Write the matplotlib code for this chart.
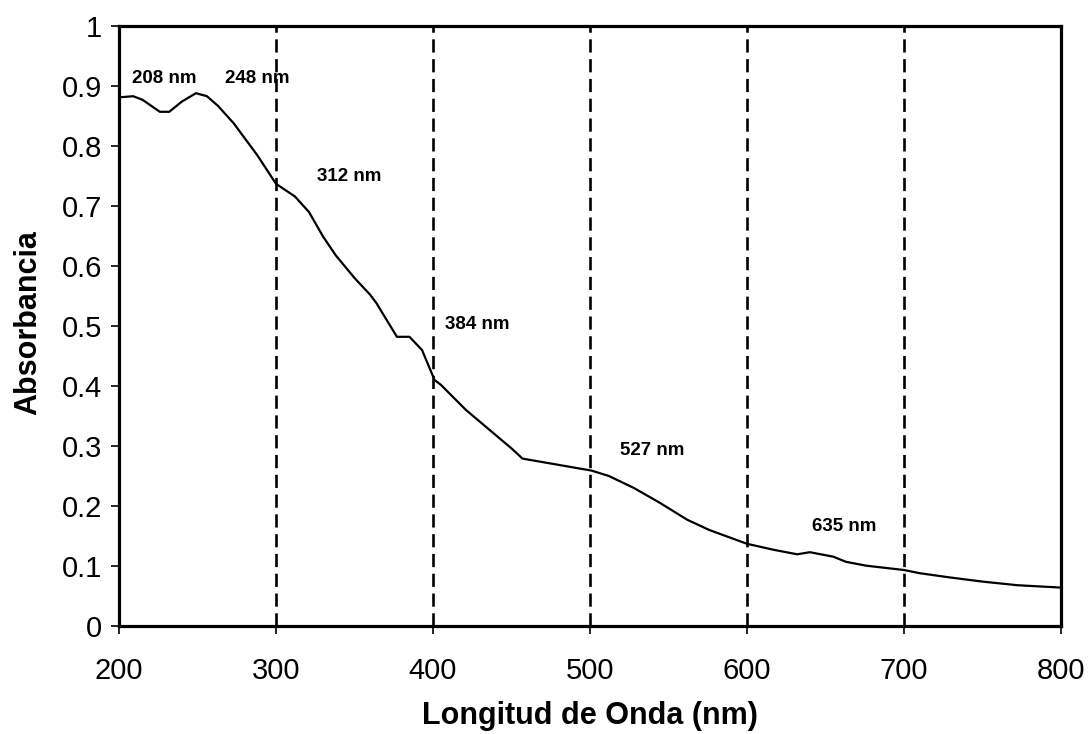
import matplotlib
matplotlib.use("Agg")
import matplotlib.pyplot as plt

plt.rcParams['font.family'] = ['Liberation Sans', 'DejaVu Sans']

wavelength = [200, 209, 215, 226, 232, 240, 249, 256, 263, 273, 288, 300, 312, 321,
              330, 338, 350, 360, 364, 377, 385, 393, 401, 405, 421, 450, 457, 501,
              512, 528, 545, 562, 576, 600, 617, 632, 640, 655, 663, 676, 700, 710,
              729, 750, 772, 800]
absorbance = [0.881, 0.883, 0.877, 0.857, 0.857, 0.874, 0.888, 0.883, 0.867, 0.838,
              0.785, 0.737, 0.716, 0.690, 0.649, 0.618, 0.580, 0.552, 0.538, 0.482,
              0.482, 0.460, 0.410, 0.402, 0.360, 0.296, 0.279, 0.259, 0.250, 0.230,
              0.2045, 0.177, 0.160, 0.137, 0.127, 0.1195, 0.123, 0.1155, 0.107,
              0.1005, 0.0933, 0.088, 0.081, 0.074, 0.068, 0.064]

vlines = [300, 400, 500, 600, 700]

peak_labels = ["208 nm", "248 nm", "312 nm", "384 nm", "527 nm", "635 nm"]
label_x = [208, 267.5, 326, 407.5, 519, 641.5]
label_y = [0.913, 0.913, 0.749, 0.502, 0.293, 0.1655]

x_ticks = [200, 300, 400, 500, 600, 700, 800]
y_ticks = [0, 0.1, 0.2, 0.3, 0.4, 0.5, 0.6, 0.7, 0.8, 0.9, 1]
y_ticklabels = ["0", "0.1", "0.2", "0.3", "0.4", "0.5", "0.6", "0.7", "0.8", "0.9", "1"]

fig = plt.figure(figsize=(10.88, 7.34), dpi=100)
ax = fig.add_axes([119/1088, 1 - 626/734, (1061 - 119)/1088, (626 - 26)/734])

for v in vlines:
    ax.axvline(v, color='black', linestyle=(0, (5, 2.5)), linewidth=1.9, zorder=1)

ax.plot(wavelength, absorbance, color='black', linewidth=1.6, zorder=2)

for t, x, y in zip(peak_labels, label_x, label_y):
    ax.text(x, y, t, fontsize=13.5, fontweight='bold', ha='left', va='center')

ax.set_xlim(200, 800)
ax.set_ylim(0, 1)
ax.set_xticks(x_ticks)
ax.set_xticklabels([str(v) for v in x_ticks])
ax.set_yticks(y_ticks)
ax.set_yticklabels(y_ticklabels)

for s in ax.spines.values():
    s.set_linewidth(2.3)

ax.tick_params(axis='both', direction='out', length=6, width=1.2, labelsize=21)
ax.tick_params(axis='y', pad=6)
ax.tick_params(axis='x', pad=16)

ax.set_xlabel("Longitud de Onda (nm)", fontsize=22, fontweight='bold', labelpad=12)
ax.set_ylabel("Absorbancia", fontsize=22, fontweight='bold')
ax.yaxis.set_label_coords(-0.0805, 0.506)

fig.savefig("out.png", dpi=100)
